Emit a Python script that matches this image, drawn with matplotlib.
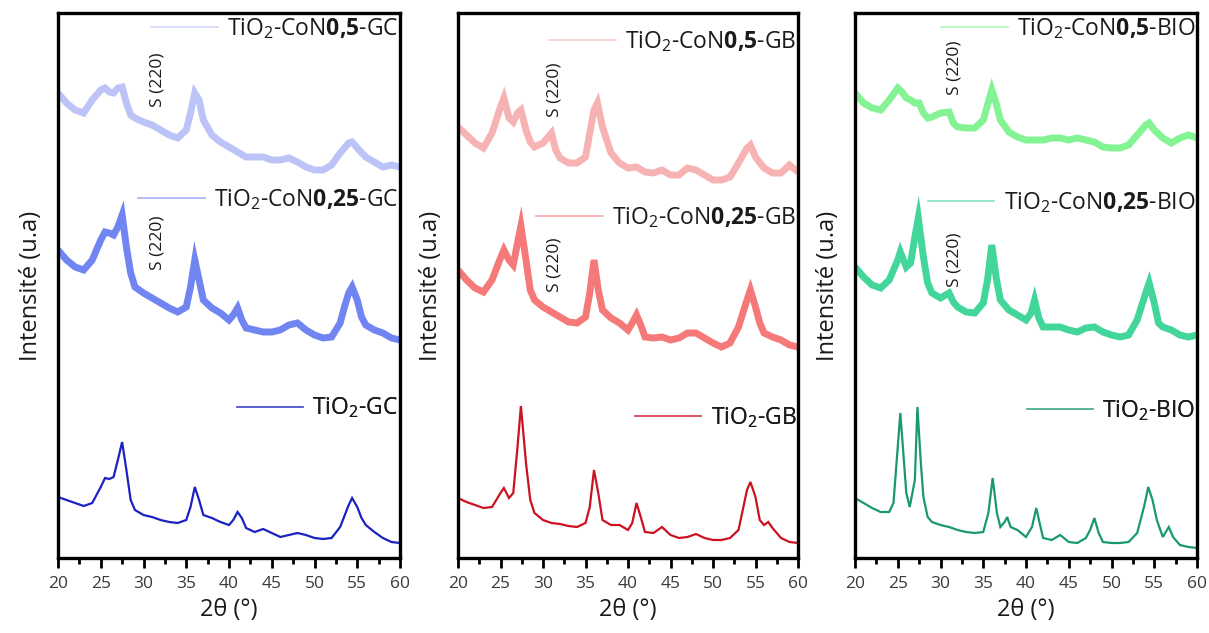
import matplotlib
matplotlib.use("Agg")
import matplotlib.pyplot as plt
from matplotlib.lines import Line2D
from matplotlib.ticker import MultipleLocator

plt.rcParams['font.family'] = ['Open Sans', 'DejaVu Sans']
plt.rcParams['mathtext.fontset'] = 'custom'
plt.rcParams['mathtext.rm'] = 'Open Sans'
plt.rcParams['mathtext.it'] = 'Open Sans:italic'
plt.rcParams['mathtext.bf'] = 'Open Sans:bold'

# ---------------- data (2theta in degrees, intensity in arbitrary units) ----------------
# Panel 1 : GC
gc05_x = [20, 21, 22, 23, 24, 25, 25.5, 26, 26.5, 27, 27.5, 28, 28.5, 29, 30, 31, 32, 33, 34, 35, 35.5, 36, 36.5, 37,
          38, 39, 40, 41, 42, 43, 44, 45, 46, 47, 48, 49, 50, 51, 52, 53, 54, 54.4, 55, 56, 57, 58, 59, 60]
gc05_y = [465, 455, 448, 445, 458, 468, 470, 466, 465, 470, 471, 455, 443, 440, 436, 433, 428, 423, 420, 428, 445, 465, 458, 438,
          423, 416, 411, 406, 401, 401, 401, 398, 398, 400, 396, 391, 388, 388, 393, 405, 415, 416, 410, 401, 396, 391, 393, 391]
gc025_x = [20, 21, 22, 23, 24, 25, 25.5, 26, 26.5, 27, 27.5, 28, 28.5, 29, 30, 31, 32, 33, 34, 35, 35.5, 36, 36.5, 37,
           38, 39, 40, 40.5, 41, 41.5, 42, 43, 44, 45, 46, 47, 48, 49, 50, 51, 52, 53, 53.5, 54, 54.4, 55, 55.5, 56, 57,
           58, 59, 60]
gc025_y = [308, 298, 291, 288, 298, 318, 326, 325, 323, 331, 343, 311, 285, 271, 265, 260, 255, 250, 246, 251, 271, 298, 278, 258,
           250, 245, 238, 243, 250, 238, 230, 228, 226, 226, 228, 233, 235, 228, 223, 220, 221, 235, 251, 265, 271, 258, 241, 233, 228,
           225, 220, 218]
gc0_x = [20, 21, 22, 23, 24, 25, 25.5, 26, 26.5, 27, 27.5, 28, 28.5, 29, 30, 31, 32, 33, 34, 35, 35.5, 36, 36.5, 37,
         38, 39, 40, 40.5, 41, 41.5, 42, 43, 44, 45, 46, 47, 48, 49, 50, 51, 52, 53, 54, 54.4, 55, 55.5, 56, 57,
         58, 59, 60]
gc0_y = [61, 58, 55, 52, 55, 71, 80, 79, 81, 98, 116, 88, 58, 48, 43, 41, 38, 36, 35, 38, 51, 71, 58, 43,
         40, 36, 33, 38, 46, 40, 30, 26, 29, 25, 21, 23, 25, 23, 20, 19, 20, 31, 53, 60, 51, 40, 33, 26,
         20, 16, 15]

# Panel 2 : GB
gb05_x = [20, 21, 22, 23, 24, 25, 25.4, 26, 26.5, 27, 27.4, 28, 28.5, 29, 30, 31, 31.5, 32, 33, 34, 35, 35.5, 36, 36.4, 37,
          38, 39, 40, 41, 42, 43, 44, 45, 46, 47, 48, 49, 50, 51, 52, 53, 54, 54.4, 55, 56, 57, 58, 59, 60]
gb05_y = [431, 423, 415, 410, 425, 451, 460, 440, 436, 445, 448, 428, 416, 411, 415, 425, 408, 400, 395, 395, 401, 425, 448, 455, 431,
          405, 395, 390, 391, 386, 385, 388, 383, 383, 390, 388, 383, 378, 378, 381, 395, 410, 413, 401, 390, 385, 385, 393, 386]
gb025_x = [20, 21, 22, 23, 24, 25, 25.4, 26, 26.5, 27, 27.4, 28, 28.5, 29, 30, 31, 32, 33, 34, 35, 35.5, 36, 36.5, 37,
           38, 39, 40, 40.5, 41, 41.5, 42, 43, 44, 45, 46, 47, 48, 49, 50, 51, 52, 53, 54, 54.4, 55, 55.5, 56, 57,
           58, 59, 60]
gb025_y = [288, 278, 270, 266, 278, 300, 308, 298, 293, 315, 332, 298, 268, 258, 251, 246, 241, 236, 235, 241, 265, 298, 268, 248,
           240, 235, 228, 235, 243, 233, 221, 220, 221, 218, 220, 225, 225, 220, 215, 211, 215, 231, 258, 268, 251, 235, 225, 221,
           218, 213, 211]
gb0_x = [20, 21, 22, 23, 24, 25, 25.4, 26, 26.5, 27, 27.4, 28, 28.5, 29, 30, 31, 32, 33, 34, 35, 35.5, 36, 36.5, 37,
         38, 39, 40, 40.5, 41, 41.5, 42, 43, 44, 45, 46, 47, 48, 49, 50, 51, 52, 53, 54, 54.4, 55, 55.5, 56, 56.5, 57,
         58, 59, 60]
gb0_y = [60, 56, 53, 50, 51, 65, 70, 60, 65, 111, 152, 95, 58, 45, 38, 35, 34, 32, 31, 35, 51, 88, 65, 38,
         33, 33, 28, 35, 55, 41, 26, 25, 31, 23, 20, 21, 24, 20, 18, 18, 20, 28, 68, 76, 61, 38, 33, 36, 30,
         20, 16, 15]

# Panel 3 : BIO
bio05_x = [20, 21, 22, 23, 24, 25, 25.5, 26, 26.5, 27, 27.5, 28, 28.5, 29, 30, 31, 31.5, 32, 33, 34, 35, 35.5, 36, 36.5, 37,
           38, 39, 40, 41, 42, 43, 44, 45, 46, 47, 48, 49, 50, 51, 52, 53, 54, 54.4, 55, 56, 57, 58, 59, 60]
bio05_y = [465, 455, 450, 448, 458, 470, 466, 460, 458, 455, 455, 445, 440, 441, 445, 446, 435, 431, 430, 430, 438, 453, 468, 455, 438,
           426, 421, 418, 418, 418, 420, 420, 418, 420, 418, 416, 411, 410, 410, 413, 423, 433, 435, 428, 420, 415, 420, 423, 420]
bio025_x = [20, 21, 22, 23, 24, 25, 25.3, 26, 26.5, 27, 27.4, 28, 28.5, 29, 30, 31, 31.5, 32, 33, 34, 35, 35.5, 36, 36.5, 37,
            38, 39, 40, 40.6, 41, 41.5, 42, 43, 44, 45, 46, 47, 48, 49, 50, 51, 52, 53, 54, 54.4, 55, 55.5, 56, 57,
            58, 59, 60]
bio025_y = [291, 281, 273, 270, 278, 298, 306, 291, 295, 321, 340, 301, 275, 265, 260, 265, 256, 251, 246, 245, 255, 278, 313, 281, 258,
            248, 243, 238, 245, 258, 240, 231, 231, 231, 228, 226, 230, 231, 226, 223, 221, 223, 238, 265, 275, 255, 235, 231, 228,
            223, 221, 223]
bio0_x = [20, 21, 22, 23, 24, 24.5, 25, 25.3, 25.6, 26, 26.4, 27, 27.3, 27.7, 28, 28.5, 29, 30, 31, 32, 33, 34, 35, 35.6, 36.1,
          36.6, 37, 37.5, 37.8, 38.2, 39, 40, 40.7, 41.2, 41.7, 42, 43, 44, 45, 46, 47, 47.5, 48, 48.5, 49, 50, 51, 52, 53,
          53.8, 54.3, 54.8, 55.3, 56, 56.7, 57.2, 58, 59, 60]
bio0_y = [60, 55, 50, 46, 46, 55, 111, 145, 111, 65, 51, 78, 151, 95, 61, 41, 36, 33, 31, 28, 26, 25, 26, 45, 80,
          45, 31, 36, 41, 31, 28, 21, 31, 50, 31, 20, 18, 23, 16, 15, 20, 28, 40, 25, 16, 15, 15, 16, 25,
          51, 71, 58, 38, 21, 31, 21, 13, 11, 10]

panel_series = [
    [(gc05_x, gc05_y), (gc025_x, gc025_y), (gc0_x, gc0_y)],
    [(gb05_x, gb05_y), (gb025_x, gb025_y), (gb0_x, gb0_y)],
    [(bio05_x, bio05_y), (bio025_x, bio025_y), (bio0_x, bio0_y)],
]
panel_labels = [
    [r'TiO$_\mathrm{2}$-CoN$\mathbf{0{,}5}$-GC', r'TiO$_\mathrm{2}$-CoN$\mathbf{0{,}25}$-GC', r'TiO$_\mathrm{2}$-GC'],
    [r'TiO$_\mathrm{2}$-CoN$\mathbf{0{,}5}$-GB', r'TiO$_\mathrm{2}$-CoN$\mathbf{0{,}25}$-GB', r'TiO$_\mathrm{2}$-GB'],
    [r'TiO$_\mathrm{2}$-CoN$\mathbf{0{,}5}$-BIO', r'TiO$_\mathrm{2}$-CoN$\mathbf{0{,}25}$-BIO', r'TiO$_\mathrm{2}$-BIO'],
]
panel_colors = [
    ['#abb5f5', '#5870f0', '#1a22c0'],
    ['#f6a0a0', '#f46262', '#cc1222'],
    ['#66f07a', '#22cf8a', '#1a9a68'],
]
# annotation "S (220)" positions: (2theta, intensity) for top and middle curves
s220_pos = [
    [(31.6, 478), (31.6, 315)],
    [(31.4, 468), (31.4, 293)],
    [(31.6, 490), (31.6, 298)],
]
# legend vertical positions (axes fraction)
legend_y = [
    [0.972, 0.657, 0.275],
    [0.947, 0.624, 0.257],
    [0.972, 0.652, 0.271],
]

# ---------------- figure ----------------
fig = plt.figure(figsize=(12.09, 6.33), dpi=100)
axes_rects = [
    [58 / 1209, 75 / 633, 342 / 1209, 545 / 633],
    [458 / 1209, 75 / 633, 340 / 1209, 545 / 633],
    [855 / 1209, 75 / 633, 342 / 1209, 545 / 633],
]
line_widths = [5.0, 5.0, 1.6]
line_alpha = [0.8, 0.85, 1.0]

for p in range(3):
    ax = fig.add_axes(axes_rects[p])
    for k, (xs, ys) in enumerate(panel_series[p]):
        ax.plot(xs, ys, color=panel_colors[p][k], lw=line_widths[k], alpha=line_alpha[k],
                solid_joinstyle='miter', solid_capstyle='butt')
    for k in range(3):
        h = Line2D([], [], color=panel_colors[p][k], lw=1.2, alpha=0.55)
        leg = ax.legend([h], [panel_labels[p][k]], loc='center right',
                        bbox_to_anchor=(0.995, legend_y[p][k]), frameon=False,
                        fontsize=16.5, handlelength=2.9, handletextpad=0.4,
                        borderpad=0, borderaxespad=0)
        for t in leg.get_texts():
            t.set_color('#1a1a1a')
        ax.add_artist(leg)
    for (sx, sy) in s220_pos[p]:
        ax.text(sx, sy, 'S (220)', rotation=90, ha='center', va='center',
                fontsize=12.5, color='#1a1a1a')

    ax.set_xlim(20, 60)
    ax.set_ylim(0, 545)
    ax.xaxis.set_major_locator(MultipleLocator(5))
    ax.xaxis.set_minor_locator(MultipleLocator(2.5))
    ax.set_yticks([])
    ax.tick_params(axis='x', which='major', direction='out', length=7, width=2.0,
                   labelsize=12.5, labelcolor='#3a3a3a', pad=6)
    ax.tick_params(axis='x', which='minor', direction='out', length=4, width=2.0)
    for s in ax.spines.values():
        s.set_linewidth(2.4)
        s.set_color('black')
    ax.set_xlabel('2θ (°)', fontsize=17, color='#1a1a1a', labelpad=4)
    ax.set_ylabel('Intensité (u.a)', fontsize=17, color='#1a1a1a')
    ax.yaxis.set_label_coords(-0.045, 0.5)

fig.savefig('out.png', dpi=100)
